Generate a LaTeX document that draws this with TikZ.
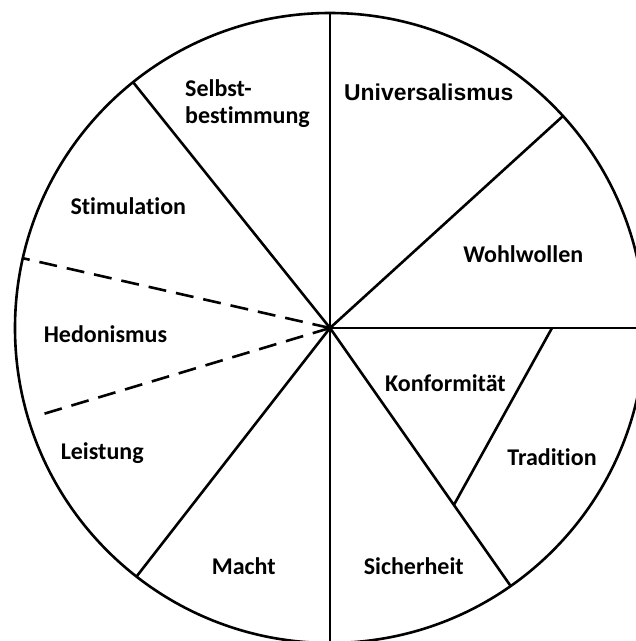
\documentclass[tikz,border=0pt]{standalone}
\usepackage{fontspec}
\setmainfont{Carlito}[Ligatures=NoCommon]
\newfontfamily\arialfont{Liberation Sans}
\usepackage{tikz}
\usetikzlibrary{positioning,calc}

\begin{document}
\begin{tikzpicture}[
    x=1pt, y=1pt,
    rim/.style={line width=2.6pt, draw=black},
    divider/.style={line width=2.6pt, draw=black},
    hedline/.style={line width=2.6pt, draw=black, dash pattern=on 18pt off 10pt},
    value/.style={font=\fontsize{24}{27}\selectfont\bfseries, inner sep=0pt, align=center, anchor=base},
]
\useasboundingbox (-330,-313) rectangle (306,328);

% === CENTRE AND RIM POINTS ===
\coordinate (c) at (0,0);
\coordinate (up) at (90:315);
\coordinate (down) at (-90:330);
\coordinate (east) at (0:330);
\coordinate (selbst) at (128.7:315);
\coordinate (univ) at (42.3:315);
\coordinate (konf) at (-55:315);
\coordinate (macht) at (232.1:315);
\coordinate (hedtop) at (167.2:316);
\coordinate (hedbot) at (196.7:306);
\coordinate (tradtop) at (222,0);
\coordinate (tradbot) at (-55:216);

% === WHEEL ===
\begin{scope}
\clip (-330,-313) rectangle (306,328);
\draw[rim] (c) circle[radius=315];
\draw[divider] (c) -- (up);
\draw[divider] (c) -- (down);
\draw[divider] (c) -- (east);
\draw[divider] (c) -- (selbst);
\draw[divider] (c) -- (univ);
\draw[divider] (c) -- (konf);
\draw[divider] (c) -- (macht);
\draw[divider] (tradtop) -- (tradbot);
\draw[hedline] (c) -- (hedtop);
\draw[hedline] (c) -- (hedbot);
\end{scope}

% === VALUES ===
\node[value, align=left, anchor=base west] (selbstbest) at (-145,205) {Selbst-\\bestimmung};
\node[value, font=\arialfont\fontsize{22.9}{26}\selectfont\bfseries] (universalismus) at (98.8,227.3) {Universalismus};
\node[value] (stimulation) at (-201.7,113.7) {Stimulation};
\node[value] (wohlwollen) at (193.3,65.7) {Wohlwollen};
\node[value] (hedonismus) at (-224.5,-14.3) {Hedonismus};
\node[value] (konformitaet) at (115.5,-63.7) {Konformität};
\node[value] (tradition) at (222,-137) {Tradition};
\node[value] (leistung) at (-227.8,-131.3) {Leistung};
\node[value] (macht_l) at (-86.3,-246.3) {Macht};
\node[value] (sicherheit) at (83.8,-246.3) {Sicherheit};

\end{tikzpicture}
\end{document}
